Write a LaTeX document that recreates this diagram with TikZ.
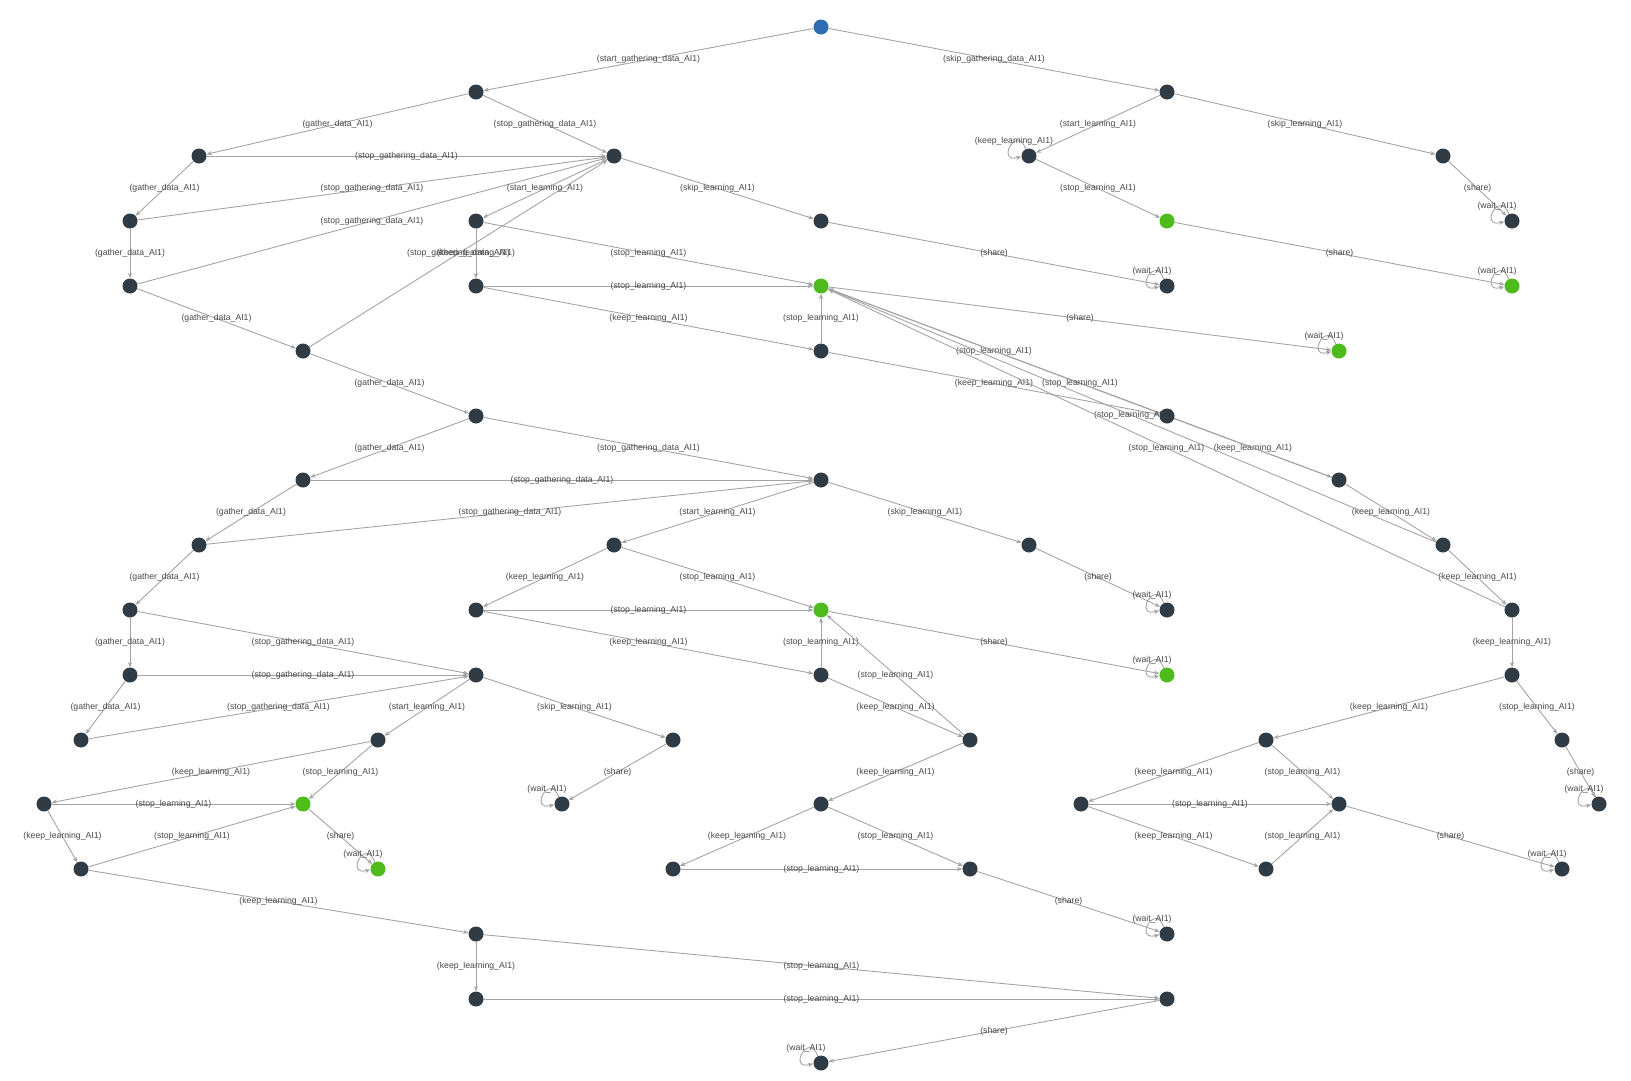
\documentclass[tikz,border=0pt]{standalone}
\usepackage{fontspec}
\setmainfont{Liberation Sans}
\usetikzlibrary{arrows.meta,calc}
\pgfdeclarelayer{bg}
\pgfsetlayers{bg,main}
\definecolor{dk}{HTML}{2F3B45}
\definecolor{gr}{HTML}{4DBB1C}
\definecolor{bl}{HTML}{2E6DB4}
\definecolor{ed}{HTML}{A3A3A3}
\definecolor{tx}{HTML}{484848}
\tikzset{
  st/.style={circle, minimum size=0.45cm, inner sep=0pt, draw=none},
  dkn/.style={st, fill=dk},
  grn/.style={st, fill=gr},
  bln/.style={st, fill=bl},
  conn/.style={draw=ed, line width=0.75pt, -{Stealth[length=4.5pt,width=3.6pt]}},
  lbl/.style={font=\fontsize{7.4}{8}\selectfont, text=tx, inner sep=0pt},
}
\newcommand\edg[3]{\draw[conn] (#1) -- node[lbl]{(#3)} (#2);}
\newcommand\lp[2]{\draw[conn] (#1.115) .. controls +(110:0.8cm) and +(195:0.8cm) .. (#1.185);
  \node[lbl] at ($(#1)+(-15,-15)$) {(#2)};}
\begin{document}
\begin{tikzpicture}[x=0.03cm, y=-0.03cm]
\useasboundingbox (0,0) rectangle (1631,1080);
% level 0
\node[bln] (R) at (821,27) {};
% level 1
\node[dkn] (A) at (476,92) {};
\node[dkn] (B) at (1167,92) {};
% level 2
\node[dkn] (C) at (199,156) {};
\node[dkn] (D) at (614,156) {};
\node[dkn] (E) at (1029,156) {};
\node[dkn] (F) at (1443,156) {};
% level 3
\node[dkn] (G) at (130,221) {};
\node[dkn] (H) at (476,221) {};
\node[dkn] (I) at (821,221) {};
\node[grn] (J) at (1167,221) {};
\node[dkn] (K) at (1512,221) {};
% level 4
\node[dkn] (L) at (130,286) {};
\node[dkn] (M) at (476,286) {};
\node[grn] (N) at (821,286) {};
\node[dkn] (O) at (1167,286) {};
\node[grn] (P) at (1512,286) {};
% level 5
\node[dkn] (Q) at (303,351) {};
\node[dkn] (RR) at (821,351) {};
\node[grn] (S) at (1339,351) {};
% level 6
\node[dkn] (T) at (476,416) {};
\node[dkn] (U) at (1167,416) {};
% level 7
\node[dkn] (V) at (303,480) {};
\node[dkn] (W) at (821,480) {};
\node[dkn] (X) at (1339,480) {};
% level 8
\node[dkn] (Y) at (199,545) {};
\node[dkn] (Z) at (614,545) {};
\node[dkn] (AA) at (1029,545) {};
\node[dkn] (AB) at (1443,545) {};
% level 9
\node[dkn] (AC) at (130,610) {};
\node[dkn] (AD) at (476,610) {};
\node[grn] (AE) at (821,610) {};
\node[dkn] (AF) at (1167,610) {};
\node[dkn] (AG) at (1512,610) {};
% level 10
\node[dkn] (AH) at (130,675) {};
\node[dkn] (AI) at (476,675) {};
\node[dkn] (AJ) at (821,675) {};
\node[grn] (AK) at (1167,675) {};
\node[dkn] (AL) at (1512,675) {};
% level 11
\node[dkn] (AM) at (81,740) {};
\node[dkn] (AN) at (378,740) {};
\node[dkn] (AO) at (673,740) {};
\node[dkn] (AP) at (970,740) {};
\node[dkn] (AQ) at (1266,740) {};
\node[dkn] (AR) at (1562,740) {};
% level 12
\node[dkn] (AS) at (44,804) {};
\node[grn] (AT) at (303,804) {};
\node[dkn] (AU) at (562,804) {};
\node[dkn] (AV) at (821,804) {};
\node[dkn] (AW) at (1081,804) {};
\node[dkn] (AX) at (1339,804) {};
\node[dkn] (AY) at (1599,804) {};
% level 13
\node[dkn] (AZ) at (81,869) {};
\node[grn] (BA) at (378,869) {};
\node[dkn] (BB) at (673,869) {};
\node[dkn] (BC) at (970,869) {};
\node[dkn] (BD) at (1266,869) {};
\node[dkn] (BE) at (1562,869) {};
% level 14
\node[dkn] (BF) at (476,934) {};
\node[dkn] (BG) at (1167,934) {};
% level 15
\node[dkn] (BH) at (476,999) {};
\node[dkn] (BI) at (1167,999) {};
% level 16
\node[dkn] (BJ) at (821,1063) {};

\begin{pgfonlayer}{bg}
\fill[white] (0,0) rectangle (1631,1080);
\edg{R}{A}{start\_gathering\_data\_AI1}
\edg{R}{B}{skip\_gathering\_data\_AI1}
\edg{A}{C}{gather\_data\_AI1}
\edg{A}{D}{stop\_gathering\_data\_AI1}
\edg{B}{E}{start\_learning\_AI1}
\edg{B}{F}{skip\_learning\_AI1}
\lp{E}{keep\_learning\_AI1}
\edg{C}{D}{stop\_gathering\_data\_AI1}
\edg{C}{G}{gather\_data\_AI1}
\edg{G}{D}{stop\_gathering\_data\_AI1}
\edg{G}{L}{gather\_data\_AI1}
\edg{L}{D}{stop\_gathering\_data\_AI1}
\edg{L}{Q}{gather\_data\_AI1}
\edg{Q}{D}{stop\_gathering\_data\_AI1}
\edg{D}{H}{start\_learning\_AI1}
\edg{D}{I}{skip\_learning\_AI1}
\edg{E}{J}{stop\_learning\_AI1}
\edg{F}{K}{share}
\lp{K}{wait\_AI1}
\edg{H}{M}{keep\_learning\_AI1}
\edg{H}{N}{stop\_learning\_AI1}
\edg{I}{O}{share}
\lp{O}{wait\_AI1}
\edg{J}{P}{share}
\lp{P}{wait\_AI1}
\edg{M}{N}{stop\_learning\_AI1}
\edg{M}{RR}{keep\_learning\_AI1}
\edg{RR}{N}{stop\_learning\_AI1}
\edg{N}{S}{share}
\lp{S}{wait\_AI1}
\edg{RR}{U}{keep\_learning\_AI1}
\edg{U}{N}{stop\_learning\_AI1}
\edg{U}{X}{keep\_learning\_AI1}
\edg{X}{N}{stop\_learning\_AI1}
\edg{X}{AB}{keep\_learning\_AI1}
\edg{AB}{N}{stop\_learning\_AI1}
\edg{AB}{AG}{keep\_learning\_AI1}
\edg{AG}{N}{stop\_learning\_AI1}
\edg{AG}{AL}{keep\_learning\_AI1}
\edg{Q}{T}{gather\_data\_AI1}
\edg{T}{V}{gather\_data\_AI1}
\edg{T}{W}{stop\_gathering\_data\_AI1}
\edg{V}{W}{stop\_gathering\_data\_AI1}
\edg{V}{Y}{gather\_data\_AI1}
\edg{Y}{W}{stop\_gathering\_data\_AI1}
\edg{Y}{AC}{gather\_data\_AI1}
\edg{W}{Z}{start\_learning\_AI1}
\edg{W}{AA}{skip\_learning\_AI1}
\edg{AA}{AF}{share}
\lp{AF}{wait\_AI1}
\edg{Z}{AD}{keep\_learning\_AI1}
\edg{Z}{AE}{stop\_learning\_AI1}
\edg{AD}{AE}{stop\_learning\_AI1}
\edg{AD}{AJ}{keep\_learning\_AI1}
\edg{AJ}{AE}{stop\_learning\_AI1}
\edg{AE}{AK}{share}
\lp{AK}{wait\_AI1}
\edg{AP}{AE}{stop\_learning\_AI1}
\edg{AJ}{AP}{keep\_learning\_AI1}
\edg{AP}{AV}{keep\_learning\_AI1}
\edg{AV}{BB}{keep\_learning\_AI1}
\edg{AV}{BC}{stop\_learning\_AI1}
\edg{BB}{BC}{stop\_learning\_AI1}
\edg{BC}{BG}{share}
\lp{BG}{wait\_AI1}
\edg{AC}{AH}{gather\_data\_AI1}
\edg{AC}{AI}{stop\_gathering\_data\_AI1}
\edg{AH}{AI}{stop\_gathering\_data\_AI1}
\edg{AH}{AM}{gather\_data\_AI1}
\edg{AM}{AI}{stop\_gathering\_data\_AI1}
\edg{AI}{AN}{start\_learning\_AI1}
\edg{AI}{AO}{skip\_learning\_AI1}
\edg{AO}{AU}{share}
\lp{AU}{wait\_AI1}
\edg{AN}{AS}{keep\_learning\_AI1}
\edg{AN}{AT}{stop\_learning\_AI1}
\edg{AS}{AT}{stop\_learning\_AI1}
\edg{AS}{AZ}{keep\_learning\_AI1}
\edg{AZ}{AT}{stop\_learning\_AI1}
\edg{AT}{BA}{share}
\lp{BA}{wait\_AI1}
\edg{AZ}{BF}{keep\_learning\_AI1}
\edg{BF}{BH}{keep\_learning\_AI1}
\edg{BF}{BI}{stop\_learning\_AI1}
\edg{BH}{BI}{stop\_learning\_AI1}
\edg{BI}{BJ}{share}
\lp{BJ}{wait\_AI1}
\edg{AL}{AQ}{keep\_learning\_AI1}
\edg{AL}{AR}{stop\_learning\_AI1}
\edg{AR}{AY}{share}
\lp{AY}{wait\_AI1}
\edg{AQ}{AW}{keep\_learning\_AI1}
\edg{AQ}{AX}{stop\_learning\_AI1}
\edg{AW}{AX}{stop\_learning\_AI1}
\edg{AW}{BD}{keep\_learning\_AI1}
\edg{BD}{AX}{stop\_learning\_AI1}
\edg{AX}{BE}{share}
\lp{BE}{wait\_AI1}
\end{pgfonlayer}
\end{tikzpicture}
\end{document}
